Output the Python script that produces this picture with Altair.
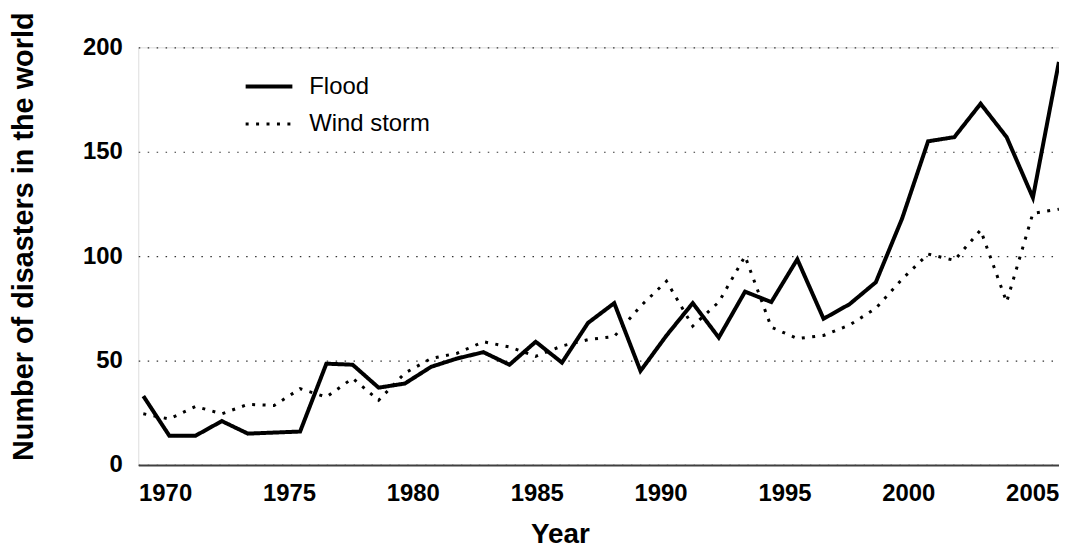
import altair as alt
import pandas as pd

# x positions (years) of the plotted points, read against the axis labels
years = [1969.12, 1970.17, 1971.23, 1972.29, 1973.34, 1974.40, 1975.45, 1976.51,
         1977.57, 1978.62, 1979.68, 1980.74, 1981.79, 1982.85, 1983.90, 1984.96,
         1986.02, 1987.07, 1988.13, 1989.19, 1990.24, 1991.30, 1992.35, 1993.41,
         1994.47, 1995.52, 1996.58, 1997.63, 1998.69, 1999.75, 2000.80, 2001.86,
         2002.92, 2003.97, 2005.03, 2006.08]

flood = [33, 14, 14, 21, 15, 15.5, 16, 48.5, 48, 37, 39, 47, 51, 54, 48, 59,
         49, 68, 77.5, 45, 62, 77.5, 61, 83, 78, 98.5, 70, 77, 87.5, 118, 155, 157,
         173, 157, 128, 193]

wind_storm = [24.5, 22, 28, 24.5, 29, 28.5, 36.5, 32.5, 41.5, 31, 44, 51, 53.5,
              59, 56.5, 52, 57, 60, 61.5, 76, 88, 66.5, 78, 100, 66, 60.5, 62, 67,
              75, 89, 101, 98, 112.5, 78, 120.5, 122.5]

series_names = ["Flood", "Wind storm"]
x_ticks = [1970, 1975, 1980, 1985, 1990, 1995, 2000, 2005]
y_ticks = [0, 50, 100, 150, 200]

df = pd.DataFrame({
    "year": years + years,
    "value": flood + wind_storm,
    "series": [series_names[0]] * len(years) + [series_names[1]] * len(years),
})

FONT = "Liberation Sans"

legend_cfg = dict(
    title=None, orient="none", legendX=106, legendY=14,
    labelFont=FONT, labelFontSize=24, labelFontWeight="normal", labelColor="black",
    labelOffset=15, symbolSize=2209, symbolType="stroke", symbolStrokeColor="black",
    rowPadding=-11, padding=0,
)

chart = alt.Chart(df).mark_line(color="black", strokeCap="butt").encode(
    x=alt.X("year:Q",
            scale=alt.Scale(domain=[1968.916, 2006.084], nice=False, zero=False),
            axis=alt.Axis(values=x_ticks, format="d", title="Year", grid=False, ticks=False,
                          domainColor="#404040", domainWidth=2,
                          labelPadding=36, labelBaseline="alphabetic",
                          labelFont=FONT, labelFontSize=24, labelFontWeight="bold",
                          labelColor="black", labelFlush=False, labelOverlap=False,
                          titleFont=FONT, titleFontSize=28, titleFontWeight="bold",
                          titleColor="black", titleX=424, titleY=78,
                          titleAlign="center", titleBaseline="alphabetic")),
    y=alt.Y("value:Q",
            scale=alt.Scale(domain=[0, 200], nice=False),
            axis=alt.Axis(values=y_ticks, title="Number of disasters in the world",
                          domain=False, ticks=False, grid=True,
                          gridDash=[1.5, 7.5], gridColor="#333333", gridWidth=1.2,
                          labelPadding=16, labelFont=FONT, labelFontSize=24,
                          labelFontWeight="bold", labelColor="black",
                          titleFont=FONT, titleFontSize=29, titleFontWeight="bold",
                          titleColor="black", titleAngle=270, titleX=-106, titleY=190,
                          titleAlign="center", titleBaseline="alphabetic")),
    strokeDash=alt.StrokeDash("series:N",
                              scale=alt.Scale(domain=series_names, range=[[1, 0], [3, 7.5]]),
                              legend=alt.Legend(**legend_cfg)),
    strokeWidth=alt.StrokeWidth("series:N",
                                scale=alt.Scale(domain=series_names, range=[4, 3]),
                                legend=alt.Legend(**legend_cfg)),
).properties(
    width=926, height=420,
    autosize=alt.AutoSizeParams(type="none"),
    padding={"left": 131, "top": 38, "right": 0, "bottom": 86},
).configure_view(stroke=None).configure(background="white")

chart.save("out.html", embed_options={"renderer": "svg", "actions": False})
